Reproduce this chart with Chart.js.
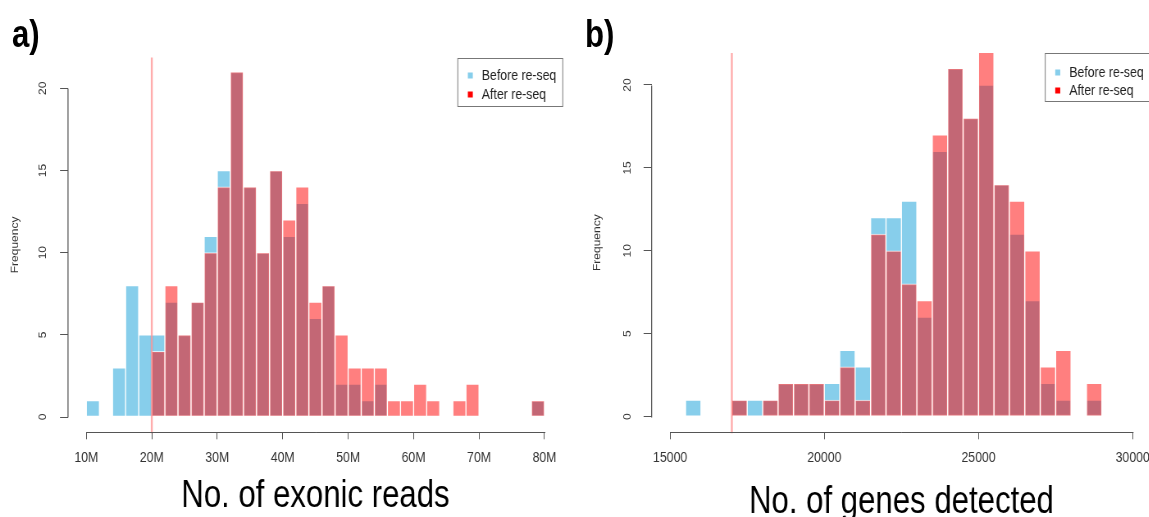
<!DOCTYPE html>
<html>
<head>
<meta charset="utf-8">
<script src="https://cdn.jsdelivr.net/npm/chart.js@4.4.0/dist/chart.umd.min.js"></script>
<style>
  html, body { margin: 0; padding: 0; background: #fff; overflow: hidden; width: 1149px; height: 517px; }
  /* the reference is horizontally squeezed, so the whole stage is drawn wide and scaled back */
  #stage { position: absolute; left: 0; top: 0; width: 1402px; height: 523px; transform-origin: 0 0; }
  .panel { position: absolute; top: 0; }
  .tag { position: absolute; font-family: "Liberation Sans", Arial, sans-serif;
         font-weight: bold; font-size: 38px; line-height: 1; color: #000; }
</style>
</head>
<body>
<div id="stage">
  <div class="tag" id="tagA">a)</div>
  <div class="tag" id="tagB">b)</div>
  <canvas id="readsChart" class="panel"></canvas>
  <canvas id="genesChart" class="panel"></canvas>
</div>
<script>
const FONT = '"Liberation Sans", Arial, sans-serif';
const SQ = 0.82;               // horizontal squeeze of the reference image
const h = v => v / SQ;         // reference px -> stage px (horizontal only)

// panel a: exonic reads (millions), 2M bins, value = bin start
const readBins = [10, 12, 14, 16, 18, 20, 22, 24, 26, 28, 30, 32, 34, 36, 38, 40, 42, 44,
                  46, 48, 50, 52, 54, 56, 58, 60, 62, 64, 66, 68, 70, 72, 74, 76, 78];
const readsBefore = [1, 0, 3, 8, 5, 5, 7, 5, 7, 11, 15, 21, 14, 10, 15, 11, 13, 6,
                     8, 2, 2, 1, 2, 0, 0, 0, 0, 0, 0, 0, 0, 0, 0, 0, 1];
const readsAfter = [0, 0, 0, 0, 0, 4, 8, 5, 7, 10, 14, 21, 14, 10, 15, 12, 14, 7,
                    8, 5, 3, 3, 3, 1, 1, 2, 1, 0, 1, 2, 0, 0, 0, 0, 1];
const readTicks = [10, 20, 30, 40, 50, 60, 70, 80];
const readCutoff = 20;

// panel b: genes detected, 500 bins, value = bin start
const geneBins = [15500, 16000, 16500, 17000, 17500, 18000, 18500, 19000, 19500, 20000,
                  20500, 21000, 21500, 22000, 22500, 23000, 23500, 24000, 24500, 25000,
                  25500, 26000, 26500, 27000, 27500, 28000, 28500];
const genesBefore = [1, 0, 0, 1, 1, 1, 2, 2, 2, 2, 4, 3, 12, 12, 13, 6, 16, 21, 18, 20,
                     14, 11, 7, 2, 1, 0, 1];
const genesAfter = [0, 0, 0, 1, 0, 1, 2, 2, 2, 1, 3, 1, 11, 10, 8, 7, 17, 21, 18, 22,
                    14, 13, 10, 3, 4, 0, 2];
const geneTicks = [15000, 20000, 25000, 30000];
const geneCutoff = 17000;

const freqTicks = [0, 5, 10, 15, 20];
const seriesNames = ['Before re-seq', 'After re-seq'];

const BLUE = '#87CEEB';
const RED_FILL = 'rgba(255,0,0,0.5)';
const EDGE = 'rgba(255,255,255,0.7)';
const AXIS = '#555';

document.getElementById('stage').style.transform = 'scaleX(' + SQ + ')';
const tagA = document.getElementById('tagA');
tagA.style.left = h(12) + 'px'; tagA.style.top = '15px';
const tagB = document.getElementById('tagB');
tagB.style.left = h(585) + 'px'; tagB.style.top = '15px';

// R-style axis lines (only between first and last tick), cutoff line and legend
const rStyle = {
  id: 'rStyle',
  afterDatasetsDraw(chart, args, opts) {
    const ctx = chart.ctx, a = chart.chartArea;
    const px = chart.scales.x.getPixelForValue(opts.cutoff);
    ctx.save();
    ctx.strokeStyle = 'rgba(255,0,0,0.32)';
    ctx.lineWidth = h(2);
    ctx.beginPath();
    ctx.moveTo(px, a.top);
    ctx.lineTo(px, a.bottom + 1);
    ctx.stroke();
    ctx.restore();
  },
  afterDraw(chart, args, opts) {
    const ctx = chart.ctx, a = chart.chartArea;
    const xs = chart.scales.x, ys = chart.scales.y;
    ctx.save();
    ctx.strokeStyle = AXIS;
    ctx.lineWidth = 1;
    ctx.beginPath();
    const yb = Math.round(a.bottom) + 0.5;
    ctx.moveTo(xs.getPixelForValue(xs.ticks[0].value), yb);
    ctx.lineTo(xs.getPixelForValue(xs.ticks[xs.ticks.length - 1].value) + 1, yb);
    ctx.stroke();
    ctx.lineWidth = h(1);
    ctx.beginPath();
    ctx.moveTo(a.left, Math.round(ys.getPixelForValue(ys.ticks[0].value)) + 0.5);
    ctx.lineTo(a.left, Math.round(ys.getPixelForValue(ys.ticks[ys.ticks.length - 1].value)) + 0.5);
    ctx.stroke();

    // legend box in the top right corner
    const bw = h(opts.boxWidth), bh = opts.boxHeight;
    const bx = a.right - bw, by = Math.round(a.top) + 0.5;
    ctx.strokeStyle = '#777';
    ctx.lineWidth = 1;
    ctx.strokeRect(bx, by, bw, bh);
    ctx.font = '15px ' + FONT;
    ctx.textBaseline = 'middle';
    const colors = [BLUE, '#FF0000'];
    seriesNames.forEach((name, i) => {
      const ty = by + opts.rows[i];
      ctx.fillStyle = colors[i];
      ctx.fillRect(bx + h(10), ty - 3, h(5), 6);
      ctx.fillStyle = '#222';
      ctx.fillText(name, bx + h(24), ty);
    });
    ctx.restore();
  }
};

function histData(bins, counts, width) {
  return bins.map((b, i) => ({ x: b + width / 2, y: counts[i] }));
}

// geometry given in reference pixels
function makeChart(id, cfg) {
  const canvas = document.getElementById(id);
  const left = h(cfg.canvasLeft);
  canvas.width = Math.round(h(cfg.canvasWidth));
  canvas.height = cfg.canvasHeight;
  canvas.style.left = left + 'px';
  const yAxisWidth = h(cfg.areaLeft) - left;
  const padRight = left + canvas.width - h(cfg.areaRight);
  const tickLen = h(8);

  return new Chart(canvas, {
    type: 'bar',
    data: {
      datasets: [
        { label: seriesNames[0], data: histData(cfg.bins, cfg.before, cfg.binWidth),
          backgroundColor: BLUE, borderColor: EDGE, borderWidth: 1, borderSkipped: false, order: 2 },
        { label: seriesNames[1], data: histData(cfg.bins, cfg.after, cfg.binWidth),
          backgroundColor: RED_FILL, borderColor: EDGE, borderWidth: 1, borderSkipped: false, order: 1 }
      ]
    },
    options: {
      responsive: false,
      animation: false,
      devicePixelRatio: 1,
      layout: { padding: { left: 0, right: padRight, top: cfg.areaTop, bottom: 0 } },
      datasets: { bar: { grouped: false, barPercentage: 1, categoryPercentage: 1 } },
      plugins: {
        legend: { display: false },
        tooltip: { enabled: false },
        rStyle: { cutoff: cfg.cutoff, boxWidth: cfg.legendWidth, boxHeight: 48, rows: cfg.legendRows }
      },
      scales: {
        x: {
          type: 'linear',
          min: cfg.xMin, max: cfg.xMax,
          offset: false,
          afterBuildTicks: s => { s.ticks = cfg.ticks.map(v => ({ value: v })); },
          afterFit: s => { s.height = cfg.canvasHeight - cfg.areaBottom; },
          grid: { offset: false, drawOnChartArea: false, drawTicks: true, tickLength: 7, color: AXIS },
          border: { display: false },
          ticks: { font: { family: FONT, size: 15 }, color: '#333', padding: 10,
                   maxRotation: 0, autoSkip: false, callback: cfg.tickLabel },
          title: { display: true, text: cfg.title, color: '#000',
                   font: { family: FONT, size: 38, lineHeight: 1 }, padding: { top: 0, bottom: cfg.titlePad } }
        },
        y: {
          min: cfg.yMin, max: cfg.yMax,
          afterBuildTicks: s => { s.ticks = freqTicks.map(v => ({ value: v })); },
          afterFit: s => { s.width = yAxisWidth; },
          grid: { drawOnChartArea: false, drawTicks: true, tickLength: tickLen, color: AXIS, lineWidth: 1 },
          border: { display: false },
          ticks: { font: { family: FONT, size: 12 }, color: '#333',
                   padding: yAxisWidth - tickLen - 6.7 - (h(cfg.yLabelX) - left),
                   minRotation: 90, maxRotation: 90, crossAlign: 'center' },
          title: { display: true, text: 'Frequency', color: '#333',
                   font: { family: FONT, size: 12 },
                   padding: { top: h(cfg.yTitleX) - left - 7.2, bottom: 0 } }
        }
      }
    },
    plugins: [rStyle]
  });
}

makeChart('readsChart', {
  bins: readBins, before: readsBefore, after: readsAfter, binWidth: 2,
  ticks: readTicks, tickLabel: v => v + 'M', cutoff: readCutoff,
  title: 'No. of exonic reads',
  xMin: 7.2, xMax: 82.8, yMin: -0.93, yMax: 21.87,
  canvasLeft: 0, canvasWidth: 575, canvasHeight: 517,
  areaLeft: 68, areaRight: 562.8, areaTop: 57.6, areaBottom: 432.3,
  yLabelX: 43, yTitleX: 15, titlePad: 1,
  legendWidth: 105, legendRows: [17, 36]
});

makeChart('genesChart', {
  bins: geneBins, before: genesBefore, after: genesAfter, binWidth: 500,
  ticks: geneTicks, tickLabel: v => String(v), cutoff: geneCutoff,
  title: 'No. of genes detected',
  xMin: 14400, xMax: 30600, yMin: -0.95, yMax: 21.93,
  canvasLeft: 575, canvasWidth: 600, canvasHeight: 523,
  areaLeft: 651.8, areaRight: 1151.4, areaTop: 53, areaBottom: 432.3,
  yLabelX: 628, yTitleX: 598, titlePad: 1,
  legendWidth: 106, legendRows: [19, 37]
});
</script>
</body>
</html>
